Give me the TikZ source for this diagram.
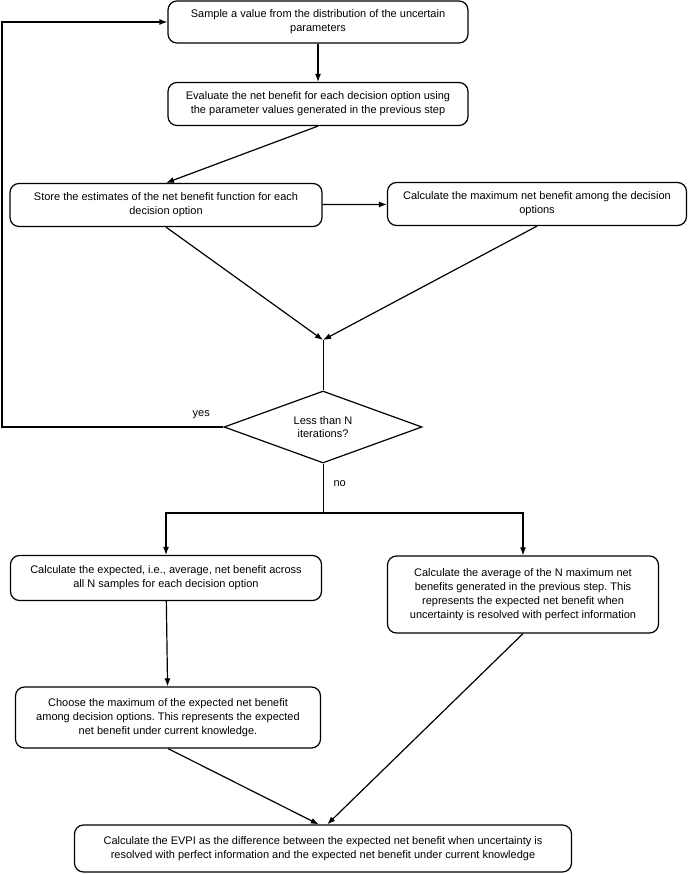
\documentclass[tikz,border=0pt]{standalone}
\usepackage{fontspec}
\setmainfont{Liberation Sans}
\usepackage{tikz}
\usetikzlibrary{arrows.meta,shapes.geometric}
\frenchspacing

\begin{document}
\begin{tikzpicture}[x=1pt,y=-1pt,
		box/.style={draw, line width=1.2pt, rounded corners=9pt, align=center, inner sep=1pt, font=\fontsize{11}{14}\selectfont},
		arr/.style={line width=1.2pt, -{Latex[length=8pt,width=6pt]}},
		thinline/.style={line width=0.5pt}]
		\useasboundingbox (0,0) rectangle (692,874);
		% boxes of the loop
		\node[box, minimum width=300pt, minimum height=42pt] (sample) at (318,22) {Sample a value from the distribution of the uncertain\\parameters};
		\node[box, minimum width=300pt, minimum height=43pt] (evaluate) at (318,104) {Evaluate the net benefit for each decision option using\\the parameter values generated in the previous step};
		\node[box, minimum width=312pt, minimum height=43pt] (store) at (166,205) {Store the estimates of the net benefit function for each\\decision option};
		\node[box, minimum width=299pt, minimum height=43pt] (maxnb) at (537,204) {Calculate the maximum net benefit among the decision\\options};
		\coordinate (merge) at (323,340);
		\node[draw, diamond, line width=1.2pt, minimum width=198pt, minimum height=72pt, aspect=2.75, inner sep=0pt, align=center, font=\fontsize{11}{13}\selectfont] (test) at (323,427) {Less than N\\iterations?};
		\coordinate (loop) at (2,427);
		\coordinate (split) at (323,513);
		% boxes after the loop
		\node[box, minimum width=311pt, minimum height=45pt] (expected) at (166,578) {Calculate the expected, i.e., average, net benefit across\\all N samples for each decision option};
		\node[box, minimum width=271pt, minimum height=77pt] (perfect) at (523,594.5) {Calculate the average of the N maximum net\\benefits generated in the previous step. This\\represents the expected net benefit when\\uncertainty is resolved with perfect information};
		\node[box, minimum width=305pt, minimum height=61pt] (choose) at (168,717.5) {Choose the maximum of the expected net benefit\\among decision options. This represents the expected\\net benefit under current knowledge.};
		\node[box, minimum width=497pt, minimum height=47pt] (evpi) at (323,848.5) {Calculate the EVPI as the difference between the expected net benefit when uncertainty is\\resolved with perfect information and the expected net benefit under current knowledge};

		\draw[arr] (sample) -- (evaluate);
		\draw[arr] (evaluate.south) -- (store.north);
		\draw[arr] (store) -- (maxnb);
		\draw[arr] (store.south) -- (merge);
		\draw[arr] (maxnb.south) -- (merge);
		\draw[thinline] (merge) -- (test.north);
		\draw[arr] (test.west) -- node[pos=0.1, above=4pt, font=\fontsize{11}{13}\selectfont] (yes) {yes} (loop) |- (sample.west);
		\draw[thinline] (test.south) -- node[pos=0.4, right=7pt, font=\fontsize{11}{13}\selectfont] (no) {no} (split);
		\draw[arr] (split) -| (expected.north);
		\draw[arr] (split) -| (perfect.north);
		\draw[arr] (expected) -- (choose);
		\draw[arr] (choose.south) -- (evpi.100);
		\draw[arr] (perfect.south) -- (evpi.80);
	\end{tikzpicture}
\end{document}
